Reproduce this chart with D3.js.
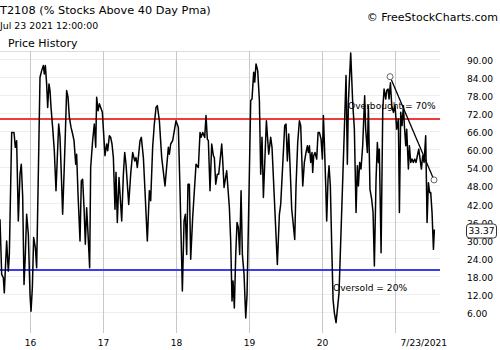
<!DOCTYPE html>
<html>
<head>
<meta charset="utf-8">
<script src="https://cdnjs.cloudflare.com/ajax/libs/d3/7.8.5/d3.min.js"></script>
<style>
  html, body { margin: 0; padding: 0; background: #fff; }
  svg { display: block; font-family: "DejaVu Sans", Verdana, sans-serif; }
</style>
</head>
<body>
<div id="chart"></div>
<script>
// T2108 (% stocks above 40 day moving average)
const years = [
  2015.589, 2015.612, 2015.635, 2015.648, 2015.680, 2015.703, 2015.717, 2015.749, 2015.781, 2015.799,
  2015.817, 2015.840, 2015.863, 2015.881, 2015.900, 2015.918, 2015.936, 2015.954, 2015.977, 2016.000,
  2016.014, 2016.032, 2016.050, 2016.073, 2016.091, 2016.114, 2016.137, 2016.160, 2016.183, 2016.196,
  2016.210, 2016.228, 2016.242, 2016.260, 2016.274, 2016.288, 2016.310, 2016.333, 2016.356, 2016.374,
  2016.393, 2016.411, 2016.429, 2016.447, 2016.466, 2016.484, 2016.502, 2016.521, 2016.539, 2016.562,
  2016.584, 2016.603, 2016.626, 2016.639, 2016.658, 2016.685, 2016.703, 2016.721, 2016.740, 2016.758,
  2016.776, 2016.795, 2016.817, 2016.831, 2016.858, 2016.881, 2016.900, 2016.913, 2016.932, 2016.950,
  2016.991, 2017.027, 2017.050, 2017.064, 2017.087, 2017.105, 2017.123, 2017.142, 2017.164, 2017.178,
  2017.196, 2017.219, 2017.256, 2017.279, 2017.297, 2017.315, 2017.352, 2017.379, 2017.406, 2017.434,
  2017.452, 2017.470, 2017.484, 2017.507, 2017.525, 2017.553, 2017.575, 2017.607, 2017.635, 2017.653,
  2017.680, 2017.703, 2017.726, 2017.744, 2017.772, 2017.804, 2017.849, 2017.895, 2017.909, 2017.927,
  2017.954, 2018.000, 2018.032, 2018.055, 2018.087, 2018.110, 2018.128, 2018.146, 2018.164, 2018.183,
  2018.201, 2018.228, 2018.274, 2018.306, 2018.329, 2018.343, 2018.366, 2018.393, 2018.411, 2018.429,
  2018.443, 2018.466, 2018.489, 2018.512, 2018.525, 2018.544, 2018.566, 2018.585, 2018.626, 2018.640,
  2018.658, 2018.694, 2018.731, 2018.749, 2018.767, 2018.781, 2018.799, 2018.818, 2018.836, 2018.854,
  2018.872, 2018.891, 2018.909, 2018.932, 2018.955, 2018.973, 2018.996, 2019.023, 2019.041, 2019.064,
  2019.078, 2019.096, 2019.119, 2019.142, 2019.160, 2019.178, 2019.197, 2019.238, 2019.270, 2019.297,
  2019.315, 2019.388, 2019.416, 2019.434, 2019.489, 2019.507, 2019.525, 2019.544, 2019.562, 2019.585,
  2019.608, 2019.626, 2019.644, 2019.667, 2019.690, 2019.708, 2019.736, 2019.758, 2019.781, 2019.799,
  2019.813, 2019.827, 2019.845, 2019.863, 2019.872, 2019.886, 2019.904, 2019.927, 2019.946, 2019.964,
  2019.987, 2020.005, 2020.019, 2020.032, 2020.051, 2020.064, 2020.082, 2020.096, 2020.114, 2020.133,
  2020.151, 2020.169, 2020.192, 2020.215, 2020.233, 2020.269, 2020.306, 2020.329, 2020.347, 2020.361,
  2020.393, 2020.420, 2020.443, 2020.466, 2020.484, 2020.498, 2020.516, 2020.534, 2020.557, 2020.584,
  2020.598, 2020.621, 2020.635, 2020.657, 2020.680, 2020.699, 2020.717, 2020.740, 2020.758, 2020.772,
  2020.785, 2020.809, 2020.832, 2020.850, 2020.873, 2020.886, 2020.905, 2020.918, 2020.937, 2020.955,
  2020.978, 2021.000, 2021.023, 2021.046, 2021.060, 2021.078, 2021.096, 2021.115, 2021.128, 2021.147,
  2021.160, 2021.183, 2021.197, 2021.215, 2021.233, 2021.251, 2021.270, 2021.288, 2021.306, 2021.325,
  2021.343, 2021.361, 2021.379, 2021.398, 2021.420, 2021.439, 2021.457, 2021.475, 2021.489, 2021.507,
  2021.526, 2021.539
];
const t2108 = [
  36.8, 18.5, 17.4, 12.4, 29.6, 19.6, 25.1, 65.5, 65.5, 60.6,
  62.8, 36.2, 51.7, 55.0, 44.0, 15.2, 25.1, 38.4, 31.8, 11.9,
  6.3, 14.1, 30.7, 27.4, 20.7, 51.7, 83.8, 86.0, 87.7, 84.9,
  87.7, 81.6, 73.8, 81.6, 79.4, 73.8, 67.2, 59.5, 46.2, 57.2,
  68.3, 63.9, 51.7, 38.4, 51.7, 65.0, 79.4, 77.2, 70.5, 67.2,
  65.0, 62.8, 55.0, 58.3, 45.0, 29.6, 49.5, 50.0, 40.6, 28.5,
  40.6, 31.8, 20.7, 53.9, 62.8, 68.3, 60.6, 77.2, 72.7, 75.0,
  72.2, 57.8, 61.7, 59.5, 64.4, 63.9, 61.7, 57.2, 40.1, 52.3,
  35.7, 50.6, 36.2, 51.7, 58.9, 55.0, 41.7, 51.7, 58.9, 56.1,
  57.2, 53.9, 57.2, 62.8, 63.9, 57.2, 46.2, 29.6, 46.2, 42.9,
  60.6, 68.3, 73.8, 74.4, 69.4, 57.2, 47.8, 60.6, 58.3, 61.7,
  62.8, 69.4, 67.2, 46.2, 13.0, 36.2, 38.4, 25.1, 48.4, 48.4,
  23.5, 37.3, 55.0, 53.9, 65.5, 63.9, 65.5, 63.9, 71.1, 63.3,
  62.8, 46.2, 61.7, 57.8, 57.2, 48.4, 51.7, 51.7, 61.7, 56.1,
  47.3, 52.8, 40.6, 29.6, 9.7, 16.3, 7.4, 25.1, 35.7, 34.0,
  25.1, 46.2, 25.1, 18.5, 4.1, 11.9, 40.6, 76.1, 76.6, 85.5,
  82.2, 88.2, 86.0, 76.1, 51.7, 63.9, 44.0, 69.4, 58.3, 63.9,
  60.6, 21.8, 38.4, 41.7, 67.8, 68.3, 56.1, 65.0, 54.5, 40.1,
  34.6, 30.1, 47.8, 62.2, 69.4, 67.8, 47.8, 55.6, 58.9, 61.1,
  58.9, 61.1, 55.6, 58.9, 52.3, 57.8, 58.9, 56.7, 65.5, 65.5,
  63.3, 56.7, 71.1, 62.2, 47.8, 36.2, 50.0, 54.5, 47.8, 27.9,
  10.2, 5.8, 2.5, 8.0, 12.4, 39.0, 66.6, 84.4, 55.0, 75.5,
  91.8, 75.5, 66.6, 39.0, 54.5, 47.8, 55.6, 53.4, 61.1, 77.7,
  66.6, 58.9, 74.4, 46.7, 43.4, 39.0, 21.3, 50.0, 62.2, 55.6,
  60.0, 25.7, 73.3, 79.9, 76.6, 79.4, 79.9, 76.6, 82.0, 74.4,
  72.2, 74.4, 66.6, 70.0, 39.0, 72.2, 67.8, 74.4, 67.8, 61.1,
  66.6, 53.4, 61.1, 55.6, 56.7, 55.6, 56.7, 55.6, 57.8, 60.0,
  56.7, 53.4, 57.8, 55.6, 64.4, 35.7, 48.9, 45.6, 45.6, 39.0,
  26.8, 33.37
];

// axis ticks
const yTicks = [6, 12, 18, 24, 30, 36, 42, 48, 54, 60, 66, 72, 78, 84, 90];
const xTickYears = [2016, 2017, 2018, 2019, 2020, 2021];
const xTickLabels = ["16", "17", "18", "19", "20", "7/23/2021"];

// reference levels and the hand drawn trend line
const levels = [70, 20];
const levelLabels = ["Overbought = 70%", "Oversold = 20%"];
const levelColors = ["#ee3b3b", "#3b3bf0"];
const trendYears = [2020.932, 2021.534];
const trendValues = [84.0, 49.8];

(function() {
    const width = 500, height = 350;
    const plot = {left: 0, right: 440, top: 51, bottom: 333};

    const svg = d3.select("#chart").append("svg")
        .attr("width", width)
        .attr("height", height);

    svg.append("rect").attr("width", width).attr("height", height).attr("fill", "#fff");

    // scales
    const x = d3.scaleLinear()
        .domain([2015.589, 2021.616])
        .range([plot.left, plot.right]);
    const y = d3.scaleLinear()
        .domain([-0.9, 92.5])
        .range([plot.bottom, plot.top]);

    // header texts
    svg.append("text").attr("x", 0).attr("y", 14)
        .attr("font-size", "11.3px").attr("fill", "#000")
        .text("T2108 (% Stocks Above 40 Day Pma)");
    svg.append("text").attr("x", 0).attr("y", 28.5)
        .attr("font-size", "9.4px").attr("fill", "#000")
        .text("Jul 23 2021 12:00:00");
    svg.append("text").attr("x", 8).attr("y", 47)
        .attr("font-size", "11px").attr("fill", "#000")
        .text("Price History");
    svg.append("text").attr("x", 498).attr("y", 21)
        .attr("text-anchor", "end")
        .attr("font-size", "11px").attr("fill", "#000")
        .text("\u00a9 FreeStockCharts.com");

    // horizontal grid
    svg.append("g").selectAll("line")
        .data(yTicks)
        .join("line")
        .attr("x1", plot.left).attr("x2", plot.right)
        .attr("y1", d => Math.round(y(d)) + 0.5)
        .attr("y2", d => Math.round(y(d)) + 0.5)
        .attr("stroke", "#eeeeee");

    // top border
    svg.append("line")
        .attr("x1", plot.left).attr("x2", plot.right)
        .attr("y1", plot.top + 0.5).attr("y2", plot.top + 0.5)
        .attr("stroke", "#dddddd");

    // vertical grid at year boundaries
    svg.append("g").selectAll("line")
        .data(xTickYears)
        .join("line")
        .attr("x1", d => Math.round(x(d)) + 0.5)
        .attr("x2", d => Math.round(x(d)) + 0.5)
        .attr("y1", plot.top).attr("y2", plot.bottom)
        .attr("stroke", "#c8c8c8");

    // x axis labels
    const xAxis = svg.append("g")
        .attr("transform", "translate(0," + plot.bottom + ")")
        .call(d3.axisBottom(x)
            .tickValues(xTickYears)
            .tickSize(0)
            .tickPadding(7)
            .tickFormat((d, i) => xTickLabels[i]));
    xAxis.select(".domain").remove();
    xAxis.selectAll("text")
        .attr("font-size", "9.1px")
        .attr("font-family", "DejaVu Sans, sans-serif")
        .attr("fill", "#000");
    // the last tick label (date) sits to the right of its gridline
    xAxis.selectAll(".tick").filter(d => d === 2021).select("text")
        .attr("text-anchor", "start")
        .attr("x", 5);

    // y axis labels on the right
    const yAxis = svg.append("g")
        .attr("transform", "translate(467,0)")
        .call(d3.axisRight(y)
            .tickValues(yTicks)
            .tickSize(0)
            .tickPadding(0)
            .tickFormat(d3.format(".2f")));
    yAxis.select(".domain").remove();
    yAxis.selectAll("text")
        .attr("font-size", "9.1px")
        .attr("font-family", "DejaVu Sans, sans-serif")
        .attr("dy", "0.5em")
        .attr("fill", "#000");

    // clip for marks
    svg.append("clipPath").attr("id", "plot-clip")
        .append("rect")
        .attr("x", plot.left).attr("y", plot.top)
        .attr("width", plot.right - plot.left)
        .attr("height", plot.bottom - plot.top);

    const marks = svg.append("g").attr("clip-path", "url(#plot-clip)");

    // overbought / oversold levels
    marks.selectAll(".level")
        .data(levels)
        .join("line")
        .attr("class", "level")
        .attr("x1", plot.left).attr("x2", plot.right)
        .attr("y1", d => y(d)).attr("y2", d => y(d))
        .attr("stroke", (d, i) => levelColors[i])
        .attr("stroke-width", 2);

    // T2108 line
    const series = years.map((t, i) => ({t: t, v: t2108[i]}));
    marks.append("path")
        .datum(series)
        .attr("fill", "none")
        .attr("stroke", "#000")
        .attr("stroke-width", 1.5)
        .attr("stroke-linejoin", "round")
        .attr("d", d3.line()
            .x(d => x(d.t))
            .y(d => y(d.v)));

    // level labels
    svg.append("text")
        .attr("x", 348).attr("y", y(levels[0]) - 9.5)
        .attr("font-size", "9.1px").attr("fill", "#000")
        .text(levelLabels[0]);
    svg.append("text")
        .attr("x", 333).attr("y", y(levels[1]) + 21.5)
        .attr("font-size", "9.1px").attr("fill", "#000")
        .text(levelLabels[1]);

    // trend line drawn on the chart
    const trend = trendYears.map((t, i) => ({t: t, v: trendValues[i]}));
    svg.append("path")
        .datum(trend)
        .attr("fill", "none")
        .attr("stroke", "#000")
        .attr("stroke-width", 1.3)
        .attr("d", d3.line().x(d => x(d.t)).y(d => y(d.v)));
    svg.selectAll(".handle")
        .data(trend)
        .join("circle")
        .attr("class", "handle")
        .attr("cx", d => x(d.t)).attr("cy", d => y(d.v))
        .attr("r", 3)
        .attr("fill", "#fff")
        .attr("stroke", "#666")
        .attr("stroke-width", 1);

    // last value box
    const last = t2108[t2108.length - 1];
    const ly = y(last) + 1.5;
    svg.append("rect")
        .attr("x", 466.5).attr("y", ly - 7)
        .attr("width", 30).attr("height", 14)
        .attr("rx", 3)
        .attr("fill", "#fff")
        .attr("stroke", "#333");
    svg.append("text")
        .attr("x", 481.5).attr("y", ly)
        .attr("dy", "0.36em")
        .attr("text-anchor", "middle")
        .attr("font-size", "9.1px").attr("fill", "#000")
        .text(d3.format(".2f")(last));
})();
</script>
</body>
</html>
